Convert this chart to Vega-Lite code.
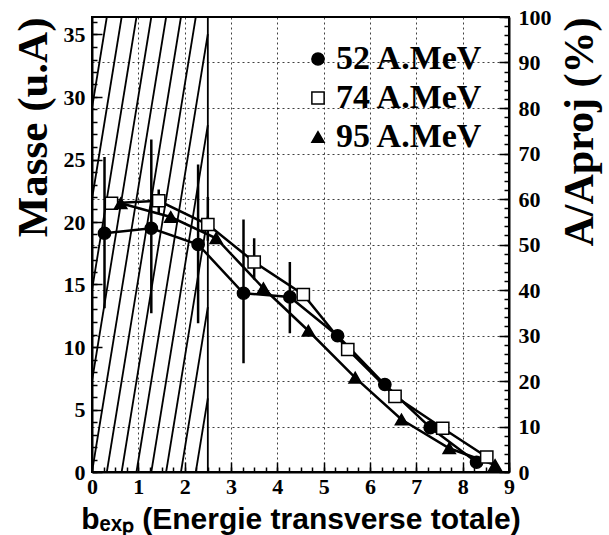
{
  "$schema": "https://vega.github.io/schema/vega-lite/v6.json",
  "width": 417,
  "height": 455,
  "autosize": "none",
  "padding": {"left": 92, "top": 17, "right": 100, "bottom": 63},
  "background": "white",
  "config": {
    "view": {"stroke": "black", "strokeWidth": 2},
    "axis": {
      "labelFont": "Liberation Serif",
      "labelFontWeight": "bold",
      "labelFontSize": 22,
      "labelColor": "black",
      "titleColor": "black",
      "domainColor": "black",
      "domainWidth": 2,
      "tickColor": "black",
      "tickWidth": 1.5,
      "grid": false,
      "labelFlush": false,
      "labelOverlap": false
    },
    "legend": {
      "labelFont": "Liberation Serif",
      "labelFontWeight": "bold",
      "labelFontSize": 34,
      "labelColor": "black",
      "symbolSize": 150,
      "symbolStrokeColor": "black",
      "symbolStrokeWidth": 1.5,
      "labelOffset": 1,
      "rowPadding": 5,
      "padding": 0,
      "offset": 25
    }
  },
  "datasets": {
    "pts": [
      {"series": "52 A.MeV", "x": 0.27, "y": 19.1},
      {"series": "52 A.MeV", "x": 1.28, "y": 19.5},
      {"series": "52 A.MeV", "x": 2.29, "y": 18.2},
      {"series": "52 A.MeV", "x": 3.27, "y": 14.3},
      {"series": "52 A.MeV", "x": 4.27, "y": 14.0},
      {"series": "52 A.MeV", "x": 5.3, "y": 10.9},
      {"series": "52 A.MeV", "x": 6.32, "y": 7.0},
      {"series": "52 A.MeV", "x": 7.3, "y": 3.55},
      {"series": "52 A.MeV", "x": 8.3, "y": 0.78},
      {"series": "74 A.MeV", "x": 0.42, "y": 21.5},
      {"series": "74 A.MeV", "x": 1.44, "y": 21.7},
      {"series": "74 A.MeV", "x": 2.5, "y": 19.8},
      {"series": "74 A.MeV", "x": 3.5, "y": 16.8},
      {"series": "74 A.MeV", "x": 4.56, "y": 14.2},
      {"series": "74 A.MeV", "x": 5.52, "y": 9.8},
      {"series": "74 A.MeV", "x": 6.54, "y": 6.05},
      {"series": "74 A.MeV", "x": 7.57, "y": 3.5},
      {"series": "74 A.MeV", "x": 8.52, "y": 1.2},
      {"series": "95 A.MeV", "x": 0.62, "y": 21.5},
      {"series": "95 A.MeV", "x": 1.7, "y": 20.4},
      {"series": "95 A.MeV", "x": 2.68, "y": 18.7},
      {"series": "95 A.MeV", "x": 3.7, "y": 14.7},
      {"series": "95 A.MeV", "x": 4.67, "y": 11.3},
      {"series": "95 A.MeV", "x": 5.68, "y": 7.55},
      {"series": "95 A.MeV", "x": 6.68, "y": 4.2},
      {"series": "95 A.MeV", "x": 7.71, "y": 1.9},
      {"series": "95 A.MeV", "x": 8.7, "y": 0.56}
    ],
    "err": [
      {"x": 0.27, "lo": 13.1, "hi": 25.2},
      {"x": 1.28, "lo": 12.7, "hi": 26.6},
      {"x": 2.29, "lo": 11.9, "hi": 24.6},
      {"x": 3.27, "lo": 8.7, "hi": 20.2},
      {"x": 4.27, "lo": 11.1, "hi": 16.8},
      {"x": 1.44, "lo": 20.7, "hi": 22.6},
      {"x": 2.5, "lo": 18.5, "hi": 22.0},
      {"x": 3.5, "lo": 15.4, "hi": 18.7}
    ],
    "hatch": [
      {"x": 0, "y": 29.12, "x2": 0.32, "y2": 36.4},
      {"x": 0, "y": 21.84, "x2": 0.64, "y2": 36.4},
      {"x": 0, "y": 14.56, "x2": 0.96, "y2": 36.4},
      {"x": 0, "y": 7.28, "x2": 1.28, "y2": 36.4},
      {"x": 0, "y": 0, "x2": 1.6, "y2": 36.4},
      {"x": 0.32, "y": 0, "x2": 1.92, "y2": 36.4},
      {"x": 0.64, "y": 0, "x2": 2.24, "y2": 36.4},
      {"x": 0.96, "y": 0, "x2": 2.5, "y2": 35.04},
      {"x": 1.28, "y": 0, "x2": 2.5, "y2": 27.76},
      {"x": 1.6, "y": 0, "x2": 2.5, "y2": 20.48},
      {"x": 1.92, "y": 0, "x2": 2.5, "y2": 13.2},
      {"x": 2.24, "y": 0, "x2": 2.5, "y2": 5.9},
      {"x": 2.5, "y": 0, "x2": 2.5, "y2": 36.4}
    ],
    "dummy": [{"a": 0}]
  },
  "layer": [
    {
      "layer": [
        {
          "data": {"name": "hatch"},
          "mark": {"type": "rule", "color": "black", "strokeWidth": 1.8},
          "encoding": {
            "x": {"field": "x", "type": "quantitative", "scale": {"domain": [0, 9], "nice": false, "zero": false},
              "axis": {"values": [0,1,2,3,4,5,6,7,8,9], "tickSize": -10, "labelPadding": 14, "grid": true, "gridColor": "black", "gridDash": [2, 3], "gridWidth": 1, "gridOpacity": 0.75,
                "title": "bₑₓₚ (Energie transverse totale)", "titleFont": "Liberation Sans", "titleFontWeight": "bold", "titleFontSize": 30, "titlePadding": 7}},
            "y": {"field": "y", "type": "quantitative", "scale": {"domain": [0, 36.4], "nice": false, "zero": true},
              "axis": {"orient": "left", "values": [0,5,10,15,20,25,30,35], "tickSize": -10, "labelPadding": 17,
                "title": "Masse (u.A)", "titleFont": "Liberation Serif", "titleFontWeight": "bold", "titleFontSize": 43, "titleAnchor": "end", "titlePadding": 8}},
            "x2": {"field": "x2"},
            "y2": {"field": "y2"}
          }
        },
        {
          "data": {"name": "err"},
          "mark": {"type": "rule", "color": "black", "strokeWidth": 2.5},
          "encoding": {
            "x": {"field": "x", "type": "quantitative", "scale": {"domain": [0, 9], "nice": false, "zero": false}},
            "y": {"field": "lo", "type": "quantitative", "scale": {"domain": [0, 36.4], "nice": false}},
            "y2": {"field": "hi"}
          }
        },
        {
          "data": {"name": "pts"},
          "mark": {"type": "line", "color": "black", "strokeWidth": 2.5},
          "encoding": {
            "x": {"field": "x", "type": "quantitative", "scale": {"domain": [0, 9], "nice": false, "zero": false}},
            "y": {"field": "y", "type": "quantitative", "scale": {"domain": [0, 36.4], "nice": false}},
            "detail": {"field": "series"}
          }
        },
        {
          "data": {"name": "pts"},
          "mark": {"type": "point", "filled": true, "strokeWidth": 1.5, "size": 150, "opacity": 1},
          "encoding": {
            "x": {"field": "x", "type": "quantitative", "scale": {"domain": [0, 9], "nice": false, "zero": false}},
            "y": {"field": "y", "type": "quantitative", "scale": {"domain": [0, 36.4], "nice": false}},
            "shape": {"field": "series", "type": "nominal", "scale": {"domain": ["52 A.MeV", "74 A.MeV", "95 A.MeV"], "range": ["circle", "square", "triangle-up"]},
              "legend": {"title": null, "orient": "top-right"}},
            "fill": {"field": "series", "type": "nominal", "scale": {"domain": ["52 A.MeV", "74 A.MeV", "95 A.MeV"], "range": ["black", "white", "black"]},
              "legend": {"title": null, "orient": "top-right"}},
            "stroke": {"field": "series", "type": "nominal", "scale": {"domain": ["52 A.MeV", "74 A.MeV", "95 A.MeV"], "range": ["black", "black", "black"]},
              "legend": {"title": null, "orient": "top-right"}}
          }
        }
      ]
    },
    {
      "data": {"name": "dummy"},
      "mark": {"type": "point", "opacity": 0},
      "encoding": {
        "x": {"field": "a", "type": "quantitative", "scale": {"domain": [0, 9], "nice": false, "zero": false},
          "axis": {"orient": "bottom", "values": [0,0.25,0.5,0.75,1,1.25,1.5,1.75,2,2.25,2.5,2.75,3,3.25,3.5,3.75,4,4.25,4.5,4.75,5,5.25,5.5,5.75,6,6.25,6.5,6.75,7,7.25,7.5,7.75,8,8.25,8.5,8.75,9], "tickSize": -5, "labels": false, "domain": false, "grid": false, "title": null}},
        "y": {"field": "a", "type": "quantitative", "scale": {"domain": [0, 36.4], "nice": false},
          "axis": {"orient": "left", "values": [0,1,2,3,4,5,6,7,8,9,10,11,12,13,14,15,16,17,18,19,20,21,22,23,24,25,26,27,28,29,30,31,32,33,34,35,36], "tickSize": -5, "labels": false, "domain": false, "grid": false, "title": null}}
      }
    },
    {
      "data": {"name": "dummy"},
      "mark": {"type": "point", "opacity": 0},
      "encoding": {
        "y": {"field": "a", "type": "quantitative", "scale": {"domain": [0, 100], "nice": false},
          "axis": {"orient": "right", "values": [0,10,20,30,40,50,60,70,80,90,100], "tickSize": -10, "labelPadding": 19, "grid": true, "gridColor": "black", "gridDash": [2, 3], "gridWidth": 1, "gridOpacity": 0.75,
            "title": "A/Aproj (%)", "titleFont": "Liberation Serif", "titleFontWeight": "bold", "titleFontSize": 42, "titleAngle": 270, "titleAnchor": "end", "titlePadding": 50}}
      }
    },
    {
      "data": {"name": "dummy"},
      "mark": {"type": "point", "opacity": 0},
      "encoding": {
        "y": {"field": "a", "type": "quantitative", "scale": {"domain": [0, 100], "nice": false},
          "axis": {"orient": "right", "values": [0,2,4,6,8,10,12,14,16,18,20,22,24,26,28,30,32,34,36,38,40,42,44,46,48,50,52,54,56,58,60,62,64,66,68,70,72,74,76,78,80,82,84,86,88,90,92,94,96,98,100], "tickSize": -5, "labels": false, "domain": false, "grid": false, "title": null}}
      }
    }
  ],
  "resolve": {"scale": {"x": "independent", "y": "independent"}}
}
